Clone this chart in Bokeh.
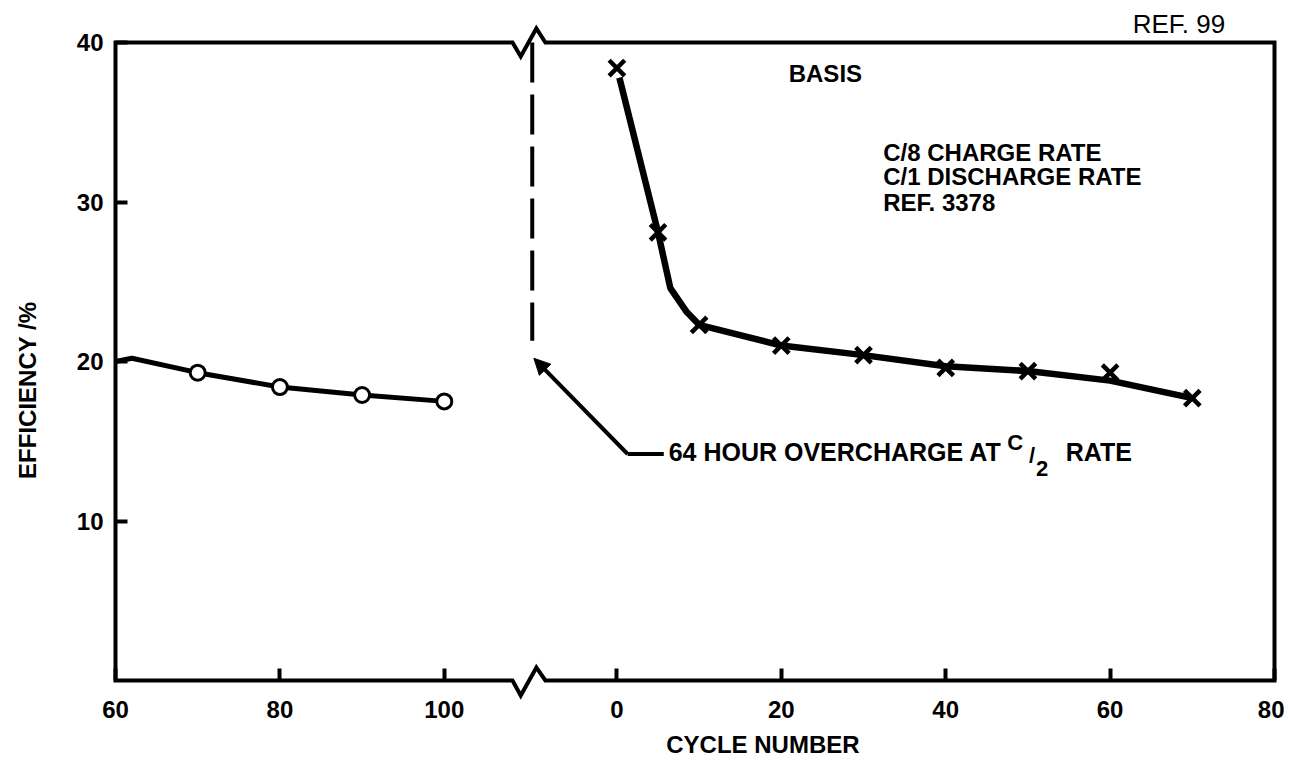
from bokeh.plotting import figure
from bokeh.models import (Range1d, FixedTicker, Label, PolyAnnotation, Arrow, NormalHead)
from bokeh.embed import file_html
from bokeh.resources import INLINE
import math

# ---------------- data ----------------
# left segment (cycles 60-100), open circles
left_cycles_line = [60, 62, 70, 80, 90, 100]
left_eff_line = [20.0, 20.2, 19.3, 18.4, 17.9, 17.5]
left_cycles_pts = [70, 80, 90, 100]
left_eff_pts = [19.3, 18.4, 17.9, 17.5]

# right segment (cycles 0-80, after 64 h overcharge), X markers
right_cycles_pts = [0, 5, 10, 20, 30, 40, 50, 60, 70]
right_eff_pts = [38.4, 28.1, 22.3, 21.0, 20.4, 19.6, 19.4, 19.3, 17.7]
right_cycles_line = [0.3, 5, 6.5, 8.5, 10, 20, 30, 40, 50, 60, 70]
right_eff_line = [37.8, 28.1, 24.6, 23.1, 22.3, 21.0, 20.4, 19.7, 19.4, 18.8, 17.7]

# axis ticks
left_tick_cycles = [60, 80, 100]
right_tick_cycles = [0, 20, 40, 60, 80]
y_ticks = [10, 20, 30, 40]

# broken axis mapping: left cycle c -> c - 60 ; right cycle c -> c + 61
LEFT_OFF = -60
RIGHT_OFF = 61
X_END = 141
Y_END = 40
BREAK_X = 50.7          # overcharge event (dashed line)

def lpos(c):
    return c + LEFT_OFF

def rpos(c):
    return c + RIGHT_OFF

FONT = "Liberation Sans"

# canvas size and where the drawn box sits on it (pixels)
W, H = 1284, 758
BOX_L, BOX_R, BOX_T, BOX_B = 115, 1274, 42, 680
sx = (BOX_R - BOX_L) / X_END
sy = (BOX_B - BOX_T) / Y_END
x_range = Range1d(-BOX_L / sx, X_END + (W - BOX_R) / sx)
y_range = Range1d(-(H - BOX_B) / sy, Y_END + BOX_T / sy)

p = figure(width=W, height=H, output_backend="svg", toolbar_location=None,
           x_range=x_range, y_range=y_range,
           min_border_left=0, min_border_right=0, min_border_top=0,
           min_border_bottom=0)
p.outline_line_color = None
p.xgrid.visible = False
p.ygrid.visible = False
p.background_fill_color = "white"
p.border_fill_color = "white"

# ticks & labels (axes placed on the box edges)
xt = [lpos(c) for c in left_tick_cycles] + [rpos(c) for c in right_tick_cycles]
xl = [str(c) for c in left_tick_cycles] + [str(c) for c in right_tick_cycles]
p.xaxis.fixed_location = 0
p.yaxis.fixed_location = 0
p.xaxis.ticker = FixedTicker(ticks=xt)
p.xaxis.major_label_overrides = {t: l for t, l in zip(xt, xl)}
p.yaxis.ticker = FixedTicker(ticks=y_ticks)
for ax in (p.xaxis, p.yaxis):
    ax.axis_line_color = None
    ax.major_tick_in = 12
    ax.major_tick_out = 0
    ax.major_tick_line_width = 4
    ax.major_tick_line_color = "black"
    ax.minor_tick_line_color = None
    ax.major_label_text_font = FONT
    ax.major_label_text_font_style = "bold"
    ax.major_label_text_font_size = "24px"
    ax.major_label_text_color = "black"
p.xaxis.major_label_standoff = 20
p.yaxis.major_label_standoff = 12

# frame with break marks
zx = [48.3, 49.3, 51.2, 52.3]
frame_xs = [0] + zx + [X_END, X_END] + zx[::-1] + [0]
frame_ys = [0, 0, -0.94, 0.82, 0, 0, Y_END, Y_END, Y_END + 0.88, Y_END - 0.88, Y_END, Y_END]
p.add_layout(PolyAnnotation(xs=frame_xs, ys=frame_ys, fill_alpha=0, line_alpha=1,
                            line_color="black", line_width=4, line_join="miter"))

# data
p.line([lpos(c) for c in left_cycles_line], left_eff_line, line_width=5, color="black")
p.scatter([lpos(c) for c in left_cycles_pts], left_eff_pts, marker="circle", size=15,
          fill_color="white", line_color="black", line_width=3)
p.line([rpos(c) for c in right_cycles_line], right_eff_line, line_width=6.5, color="black")
p.scatter([rpos(c) for c in right_cycles_pts], right_eff_pts, marker="x", size=22,
          line_color="black", line_width=4.5)

# overcharge event: dashed line and callout
event_y = [Y_END, 21.3]
p.line([BREAK_X, BREAK_X], event_y, line_width=4, color="black", line_dash="40 12")
callout_x = [62.3, 66.7]
callout_y = [14.2, 14.2]
p.line(callout_x, callout_y, line_width=4, color="black")
p.add_layout(Arrow(end=NormalHead(size=16, fill_color="black", line_color="black"),
                   x_start=62.3, y_start=14.2, x_end=50.9, y_end=20.2,
                   line_width=4, line_color="black"))

def lab(x, y, t, size="24px", bold=True, align="left", angle=0):
    p.add_layout(Label(x=x, y=y, text=t, text_font=FONT,
                       text_font_style="bold" if bold else "normal",
                       text_font_size=size, text_align=align,
                       text_baseline="middle", angle=angle, text_color="black"))

lab(81.9, 38.06, "BASIS")
lab(93.4, 33.1, "C/8 CHARGE RATE")
lab(93.4, 31.6, "C/1 DISCHARGE RATE")
lab(93.4, 30.0, "REF. 3378")
lab(135.0, 41.15, "REF. 99", size="26px", bold=False, align="right")
lab(67.3, 14.3, "64 HOUR OVERCHARGE AT", size="25px")
lab(108.5, 14.9, "C", size="22px")
lab(111.5, 14.1, "/", size="22px", align="center")
lab(112.0, 13.3, "2", size="22px")
lab(115.6, 14.3, "RATE", size="25px")
lab(67.0, -4.0, "CYCLE NUMBER")
lab(-10.7, 18.2, "EFFICIENCY /%", align="center", angle=math.pi / 2)

open("out.html", "w").write(file_html(p, INLINE))
